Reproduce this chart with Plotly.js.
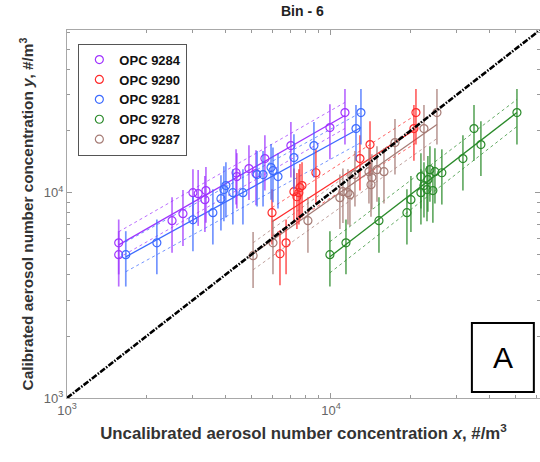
<!DOCTYPE html>
<html>
<head>
<meta charset="utf-8">
<script src="https://cdn.plot.ly/plotly-3.0.1.min.js"></script>
<style>html,body{margin:0;padding:0;background:#fff;}#chart{width:540px;height:462px;}</style>
</head>
<body>
<div id="chart"></div>
<script>
// ---------- data ----------
const seriesNames = ['OPC 9284', 'OPC 9290', 'OPC 9281', 'OPC 9278', 'OPC 9287'];

// OPC 9284
const x9284 = [1570, 1570, 2500, 2750, 3000, 3140, 3360, 3330, 4370, 4400, 4890, 5200, 5620, 7050, 9910, 11300];
const y9284 = [5700, 4990, 7300, 7900, 10000, 9890, 10230, 9240, 12500, 11970, 13100, 12390, 14650, 16950, 20750, 24550];
const e9284 = [1700, 1500, 2200, 2400, 3000, 3000, 3100, 2800, 3750, 3600, 3900, 3700, 4400, 5100, 6200, 7400];
const fitX9284 = [1570, 11300];
const fitY9284 = [5570, 23760];
const upY9284 = [6450, 27500];
const loY9284 = [4810, 20540];

// OPC 9290
const x9290 = [5980, 6410, 6760, 7240, 7430, 7560, 7630, 7770, 8770, 12880, 14060, 20620, 20990];
const y9290 = [7990, 5040, 5700, 10110, 9550, 10000, 10580, 10820, 12500, 14650, 17140, 20510, 24550];
const e9290 = [2400, 1500, 1700, 3000, 2900, 3000, 3200, 3250, 3750, 4400, 5100, 6200, 7400];
const fitX9290 = [5980, 20800];
const fitY9290 = [7220, 20290];
const upY9290 = [8450, 23740];
const loY9290 = [6170, 17340];

// OPC 9281
const x9281 = [1670, 2190, 3000, 3570, 3830, 3930, 4000, 4250, 4640, 5250, 5530, 5930, 6030, 6300, 7240, 8620, 12440, 12990];
const y9281 = [4990, 5700, 7380, 7990, 9350, 10350, 10820, 10000, 10000, 12250, 12250, 13240, 12790, 11970, 14820, 16950, 20510, 24550];
const e9281 = [1500, 1700, 2200, 2400, 2800, 3100, 3250, 3000, 3000, 3700, 3700, 4000, 3800, 3600, 4400, 5100, 6200, 7400];
const fitX9281 = [1670, 12990];
const fitY9281 = [4870, 20750];
const upY9281 = [5760, 24550];
const loY9281 = [4120, 17540];

// OPC 9278
const x9278 = [9910, 11400, 15200, 19400, 20090, 21920, 21920, 22510, 23110, 23290, 23710, 24330, 24770, 26310, 31620, 34830, 36990, 50660];
const y9278 = [4990, 5700, 7300, 7990, 9240, 11970, 10000, 10820, 10350, 11570, 12940, 10230, 12650, 12500, 14650, 20510, 17140, 24550];
const e9278 = [1500, 1700, 2200, 2400, 2800, 3600, 3000, 3250, 3100, 3500, 3900, 3100, 3800, 3750, 4400, 6200, 5100, 7400];
const fitX9278 = [9910, 50660];
const fitY9278 = [4870, 24550];
const upY9278 = [5770, 28430];
const loY9278 = [4070, 20990];

// OPC 9287
const x9287 = [5070, 6030, 8180, 10810, 11100, 11600, 11800, 12330, 13930, 14180, 14290, 14940, 15880, 17480, 22510, 25210];
const y9287 = [4930, 5700, 7300, 9450, 10110, 10000, 9780, 12250, 12650, 10940, 11840, 12940, 12650, 17540, 20510, 24550];
const e9287 = [1500, 1700, 2200, 2800, 3000, 3000, 2900, 3700, 3800, 3300, 3550, 3900, 3800, 5300, 6200, 7400];
const fitX9287 = [5070, 25210];
const fitY9287 = [5050, 21460];
const upY9287 = [5700, 25100];
const loY9287 = [4210, 18340];

// 1:1 line
const oneToOne = [1000, 62000];

// tick labels
const tickVals = [1000, 10000];
const tickText = ['10<sup>3</sup>', '10<sup>4</sup>'];
const minorVals = [2000, 3000, 4000, 5000, 6000, 7000, 8000, 9000, 20000, 30000, 40000, 50000, 60000];

// ---------- styling ----------
const colors = {
  'OPC 9284': ['#a034ff', 'rgba(160,52,255,0.72)'],
  'OPC 9290': ['#ff2a2a', 'rgba(255,42,42,0.72)'],
  'OPC 9281': ['#3d6bff', 'rgba(61,107,255,0.72)'],
  'OPC 9278': ['#2a8a2a', 'rgba(42,138,42,0.72)'],
  'OPC 9287': ['#a67c76', 'rgba(166,124,118,0.72)']
};

const sets = {
  'OPC 9284': [x9284, y9284, e9284, fitX9284, fitY9284, upY9284, loY9284],
  'OPC 9290': [x9290, y9290, e9290, fitX9290, fitY9290, upY9290, loY9290],
  'OPC 9281': [x9281, y9281, e9281, fitX9281, fitY9281, upY9281, loY9281],
  'OPC 9278': [x9278, y9278, e9278, fitX9278, fitY9278, upY9278, loY9278],
  'OPC 9287': [x9287, y9287, e9287, fitX9287, fitY9287, upY9287, loY9287]
};

const traces = [];
seriesNames.forEach(name => {
  const [xs, ys, es, fx, fy, uy, ly] = sets[name];
  const [c, ca] = colors[name];
  traces.push({x: fx, y: uy, mode: 'lines', showlegend: false, hoverinfo: 'skip',
    line: {color: ca, width: 1, dash: 'dot'}});
  traces.push({x: fx, y: ly, mode: 'lines', showlegend: false, hoverinfo: 'skip',
    line: {color: ca, width: 1, dash: 'dot'}});
  traces.push({x: fx, y: fy, mode: 'lines', showlegend: false, hoverinfo: 'skip',
    line: {color: c, width: 1.3}});
});
seriesNames.forEach(name => {
  const [xs, ys, es] = sets[name];
  const [c, ca] = colors[name];
  traces.push({x: xs, y: ys, name: name, mode: 'markers', type: 'scatter',
    marker: {symbol: 'circle-open', size: 8, color: c, line: {width: 1.2, color: c}},
    error_y: {type: 'data', array: es, visible: true, color: ca, thickness: 1.7, width: 0}});
});
traces.push({x: oneToOne, y: oneToOne, mode: 'lines', showlegend: false,
  line: {color: '#000', width: 2.6, dash: '6px,1.5px,1.5px,1.5px'}});

const axisCommon = {
  type: 'log',
  range: [3, 4.792],
  tickvals: tickVals,
  ticktext: tickText,
  ticks: 'inside',
  ticklen: 5,
  tickcolor: '#999',
  showline: true,
  linecolor: '#a8a8a8',
  linewidth: 1,
  mirror: 'ticks',
  showgrid: false,
  zeroline: false,
  tickfont: {family: 'Liberation Sans, Arial, sans-serif', size: 13, color: '#666'},
  minor: {tickvals: minorVals, ticks: 'inside', ticklen: 3, tickcolor: '#999', showgrid: false}
};

const layout = {
  width: 540, height: 462,
  margin: {l: 67, r: 0, t: 30, b: 64},
  paper_bgcolor: '#fff', plot_bgcolor: '#fff',
  font: {family: 'Liberation Sans, Arial, sans-serif', color: '#222'},
  title: {text: '<b>Bin - 6</b>', x: 0.56, xanchor: 'center', y: 0.975, yanchor: 'middle',
    font: {size: 14, color: '#222'}},
  xaxis: Object.assign({}, axisCommon, {
    title: {text: '<b>Uncalibrated aerosol number concentration <i>x</i>, #/m<sup>3</sup></b>',
      font: {size: 16.8, color: '#333'}, standoff: 10}
  }),
  yaxis: Object.assign({}, axisCommon, {
    title: {text: '<b>Calibrated aerosol number concentration <i>y</i>, #/m<sup>3</sup></b>',
      font: {size: 15.3, color: '#333'}, standoff: 6}
  }),
  legend: {
    x: 0.024, y: 0.963, xanchor: 'left', yanchor: 'top',
    bgcolor: '#fff', bordercolor: '#555', borderwidth: 1,
    font: {size: 13, color: '#111', family: 'Liberation Sans, Arial, sans-serif', weight: 'bold'},
    tracegroupgap: 0, itemwidth: 30
  },
  shapes: [{type: 'rect', xref: 'paper', yref: 'paper', x0: 0.856, x1: 0.987, y0: 0.016, y1: 0.204,
    line: {color: '#000', width: 2}, fillcolor: '#fff'}],
  annotations: [{xref: 'paper', yref: 'paper', x: 0.9215, y: 0.11, xanchor: 'center', yanchor: 'middle',
    text: 'A', showarrow: false,
    font: {size: 30, color: '#000', family: 'Liberation Sans, Arial, sans-serif'}}],
  showlegend: true
};

Plotly.newPlot('chart', traces, layout, {displayModeBar: false, staticPlot: true});
</script>
</body>
</html>
